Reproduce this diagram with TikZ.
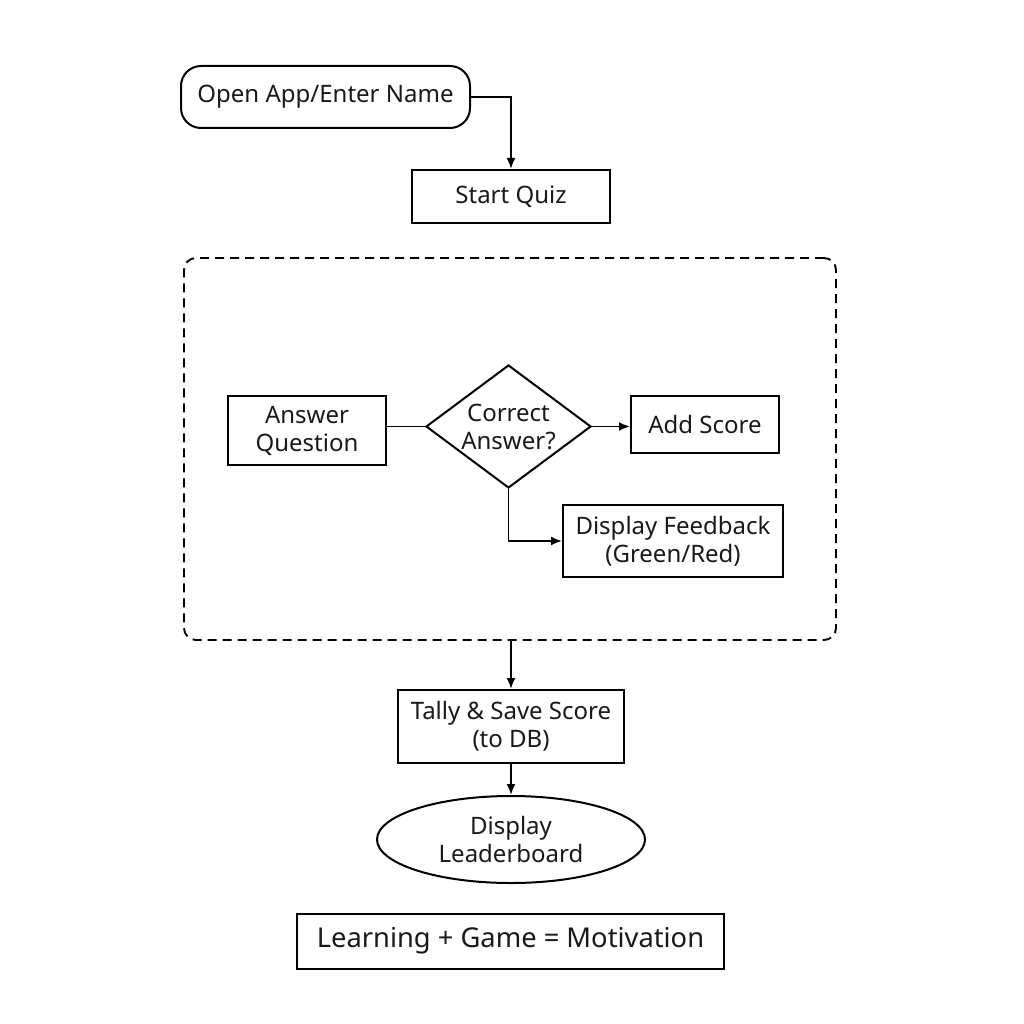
\documentclass[tikz,border=0pt]{standalone}
\usepackage{fontspec}
\setmainfont{Noto Sans}
\usetikzlibrary{shapes.geometric,arrows.meta,positioning}
\begin{document}
\begin{tikzpicture}[x=1pt,y=-1pt,
  every node/.style={font=\fontsize{24}{28}\selectfont, text=black!90, align=center, inner sep=0pt},
  box/.style={draw, line width=2pt, rectangle},
  conn/.style={line width=1.9pt},
  arr/.style={conn, -{Latex[length=11pt,width=9pt]}}
]
\useasboundingbox (0,0) rectangle (1024,1024);
\fill[white] (0,0) rectangle (1024,1024);

\node[box, rounded corners=20pt, minimum width=289pt, minimum height=62pt] (open) at (325.5,97) {Open App/Enter Name};
\node[box, minimum width=198pt, minimum height=53pt] (start) at (511,196.5) {Start Quiz};

\node[draw, line width=1.9pt, dash pattern=on 9pt off 6pt, rounded corners=12pt, minimum width=652pt, minimum height=382pt] (loop) at (510,449) {};

\node[box, minimum width=158pt, minimum height=69pt] (answer) at (307,430.5) {Answer\\Question};
\node[draw, line width=2pt, diamond, aspect=1.34, minimum width=165pt, minimum height=123pt] (correct) at (508.5,426.5) {Correct\\Answer?};
\node[box, minimum width=148pt, minimum height=57pt] (add) at (705,424.5) {Add Score};
\node[box, minimum width=220pt, minimum height=72pt] (feedback) at (673,541) {Display Feedback\\(Green/Red)};

\node[box, minimum width=226pt, minimum height=73pt] (tally) at (511,726.5) {Tally \& Save Score\\(to DB)};
\node[draw, line width=2pt, ellipse, minimum width=268pt, minimum height=87pt] (board) at (511,839.5) {Display\\Leaderboard};
\node[box, minimum width=427pt, minimum height=55pt, font=\fontsize{27.3}{33}\selectfont] (motto) at (510.5,941) {Learning + Game = Motivation};

\draw[arr] (open.east) -| (start.north);
\draw[conn] (answer.east |- correct.west) -- (correct.west);
\draw[arr] (correct.east) -- (add.west |- correct.east);
\draw[arr] (correct.south) |- (feedback.west);
\draw[arr] (tally.north |- loop.south) -- (tally.north);
\draw[arr] (tally.south) -- (board.north);
\end{tikzpicture}
\end{document}
